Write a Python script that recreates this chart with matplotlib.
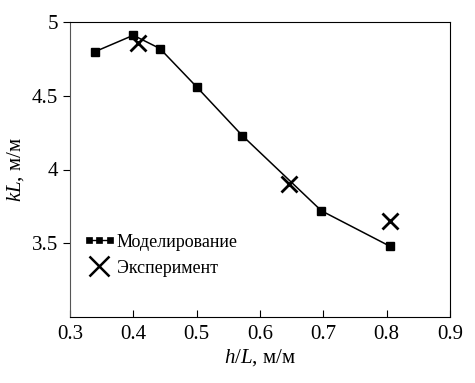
import matplotlib.pyplot as plt
from matplotlib.lines import Line2D
from matplotlib.legend_handler import HandlerLine2D

plt.rcParams['font.family'] = ['Liberation Serif', 'DejaVu Serif']
plt.rcParams['mathtext.fontset'] = 'custom'
plt.rcParams['mathtext.it'] = 'Liberation Serif:italic'
plt.rcParams['mathtext.rm'] = 'Liberation Serif'

# modelling
model_x = [0.34, 0.40, 0.442, 0.50, 0.572, 0.697, 0.805]
model_y = [4.80, 4.91, 4.82, 4.56, 4.23, 3.72, 3.48]
# experiment
exp_x = [0.408, 0.645, 0.805]
exp_y = [4.86, 3.90, 3.65]

xticks = [0.3, 0.4, 0.5, 0.6, 0.7, 0.8, 0.9]
yticks = [3.5, 4, 4.5, 5]
ytick_labels = ['3.5', '4', '4.5', '5']

fig = plt.figure(figsize=(4.75, 3.83), dpi=100)
ax = fig.add_axes([70/475, 1 - 317/383, 380/475, 295/383])

ax.plot(model_x, model_y, color='black', lw=1.1, marker='s', ms=5.5)
ax.plot(exp_x, exp_y, ls='none', color='black', marker='x', ms=11, mew=2)

ax.set_xlim(0.3, 0.9)
ax.set_ylim(3.0, 5.0)
ax.set_xticks(xticks)
ax.set_xticklabels([str(t) for t in xticks])
ax.set_yticks(yticks)
ax.set_yticklabels(ytick_labels)
ax.tick_params(axis='x', direction='in', length=5, labelsize=15, pad=6)
ax.tick_params(axis='y', direction='out', length=5, labelsize=15)
ax.spines['left'].set_color('#555555')

ax.set_xlabel('$h/L$, м/м', fontsize=15, labelpad=2)
ax.set_ylabel('$kL$, м/м', fontsize=15, labelpad=4)

# legend proxies (bigger cross, smaller squares like the original)
m_proxy = Line2D([], [], color='black', lw=1.0, marker='s', ms=4.8, mew=0.5)
e_proxy = Line2D([], [], color='black', ls='none', marker='x', ms=15, mew=1.8)
ax.legend([m_proxy, e_proxy], ['Моделирование', 'Эксперимент'],
          loc='upper left', bbox_to_anchor=(0.012, 0.325), frameon=False,
          fontsize=13, handlelength=1.35, handletextpad=0.3,
          borderaxespad=0.3,
          handler_map={m_proxy: HandlerLine2D(numpoints=3, marker_pad=0.1),
                       e_proxy: HandlerLine2D(numpoints=1)})

fig.savefig('out.png', dpi=100)
